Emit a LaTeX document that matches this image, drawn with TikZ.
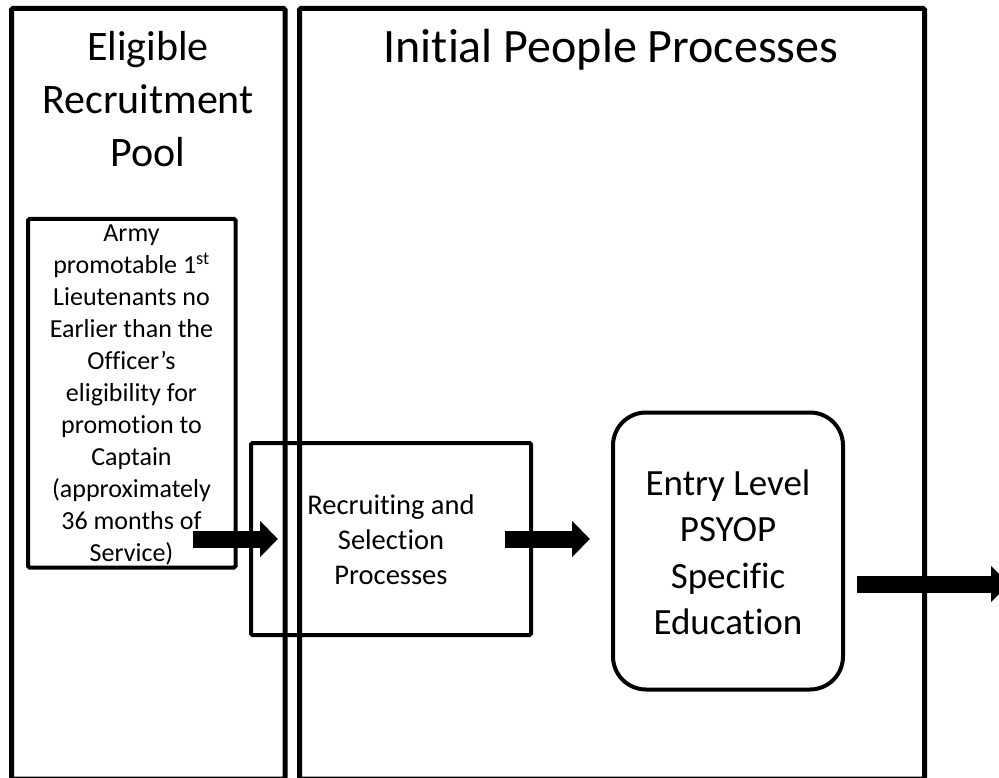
\documentclass[tikz,border=0pt]{standalone}
\usepackage{fontspec}
\setmainfont{Carlito}[RawFeature={-liga;-clig}]
\usetikzlibrary{arrows.meta}
\tikzset{
  panel/.style={draw=black, line width=5pt, rounded corners=1.5pt},
  boxline/.style={draw=black, line width=4pt, rounded corners=1.5pt},
  bigarrow/.style={draw=black, line width=17pt, -{Triangle[length=18pt,width=35pt]}},
  title/.style={align=center, inner sep=0pt},
}
\begin{document}
\begin{tikzpicture}[x=1pt,y=-1pt]
\useasboundingbox (0,0) rectangle (999,778);
\clip (0,0) rectangle (999,778);
% panels
\draw[panel] (11.5,8.5) rectangle (285,779);
\draw[panel] (299.5,8.5) rectangle (924.5,779);
% titles
\node[title, font=\fontsize{42}{53}\selectfont] (lefttitle) at (148,99) {Eligible\\Recruitment\\Pool};
\node[title, font=\fontsize{48}{58}\selectfont] (righttitle) at (611,50) {Initial People Processes};
% boxes
\draw[boxline] (28,219) rectangle (235.5,567.5);
\node[align=center, font=\fontsize{26}{32}\selectfont, inner sep=0pt] (army) at (131.5,395)
  {Army\\promotable 1\textsuperscript{st}\\Lieutenants no\\Earlier than the\\Officer’s\\eligibility for\\promotion to\\Captain\\(approximately\\36 months of\\Service)};
\draw[boxline] (251,443) rectangle (531,635);
\node[align=center, font=\fontsize{28.5}{35}\selectfont, inner sep=0pt] (rec) at (391,540)
  {Recruiting and\\Selection\\Processes};
\draw[boxline, rounded corners=33pt] (613,412.5) rectangle (843,689.5);
\node[align=center, font=\fontsize{37}{46.5}\selectfont, inner sep=0pt] (entry) at (728,552.5)
  {Entry Level\\PSYOP\\Specific\\Education};
% arrows
\coordinate (a1s) at (193,539);
\coordinate (a1e) at (278,539);
\coordinate (a2s) at (505,539);
\coordinate (a2e) at (590,539);
\coordinate (a3s) at (857,584);
\coordinate (a3e) at (1009,584);
\draw[bigarrow] (a1s) -- (a1e);
\draw[bigarrow] (a2s) -- (a2e);
\draw[bigarrow] (a3s) -- (a3e);
\end{tikzpicture}
\end{document}
